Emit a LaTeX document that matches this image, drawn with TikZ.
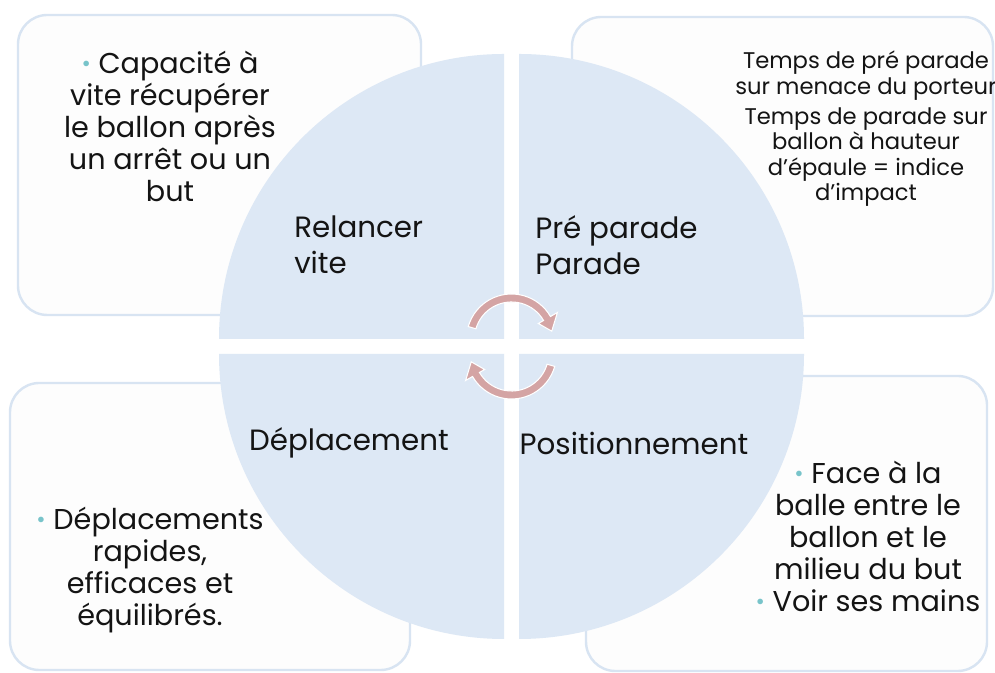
\documentclass[tikz,border=0pt]{standalone}
\usepackage{fontspec}
\setmainfont{Poppins}
\usetikzlibrary{calc}
\definecolor{quadfill}{RGB}{221,232,245}
\definecolor{boxline}{RGB}{216,228,242}
\definecolor{boxfill}{RGB}{253,253,253}
\definecolor{arrowc}{RGB}{212,164,164}
\definecolor{bulletc}{RGB}{120,196,202}
\definecolor{txt}{RGB}{20,20,20}
\newcommand{\mybul}{{\fontsize{17}{17}\selectfont\raisebox{0.08em}{\textcolor{bulletc}{•}}}\ }
\tikzset{
  sidebox/.style={draw=boxline, fill=boxfill, line width=1.8pt, rounded corners=22pt},
  quad/.style={fill=quadfill},
  cyc/.style={fill=arrowc, draw=white, line width=0.8pt},
  boxtext/.style={align=center, inner sep=0pt, text=txt, font=\fontsize{21.5}{24}\selectfont},
  smalltext/.style={align=center, inner sep=0pt, text=txt, font=\fontsize{17}{19.2}\selectfont},
  qlabel/.style={align=left, inner sep=0pt, text=txt, font=\fontsize{22}{27}\selectfont}
}
\begin{document}
\begin{tikzpicture}[x=0.75pt, y=0.75pt]
\useasboundingbox (0,0) rectangle (995,673);
\fill[white] (0,0) rectangle (995,673);
% side boxes
\draw[sidebox] (18,358) rectangle (421,658);
\draw[sidebox] (572,357) rectangle (993,656);
\draw[sidebox] (10,3) rectangle (410,290);
\draw[sidebox] (586,2) rectangle (987,297);
% quadrants
\fill[quad] (504,334) -- (219,334) arc[start angle=180, end angle=90, radius=213.75pt] -- cycle;
\fill[quad] (519,334) -- (519,619) arc[start angle=90, end angle=0, radius=213.75pt] -- cycle;
\fill[quad] (504,319) -- (219,319) arc[start angle=180, end angle=270, radius=213.75pt] -- cycle;
\fill[quad] (519,319) -- (804,319) arc[start angle=0, end angle=-90, radius=213.75pt] -- cycle;
% cycle arrows
\coordinate (ctop) at (511.5,334);
\coordinate (cbot) at (511.5,319);
\draw[cyc, shift={(ctop)}] (164:45) arc[start angle=164, end angle=30, radius=33.75pt]
  -- (30:53) -- (11:41) -- (30:31) -- (30:37)
  arc[start angle=30, end angle=164, radius=27.75pt] -- cycle;
\draw[cyc, shift={(cbot)}] (-16:45) arc[start angle=-16, end angle=-150, radius=33.75pt]
  -- (-150:53) -- (-169:41) -- (-150:31) -- (-150:37)
  arc[start angle=-150, end angle=-16, radius=27.75pt] -- cycle;
% quadrant labels
\node[qlabel, anchor=west] (relancer) at (294,428) {Relancer\\vite};
\node[qlabel, anchor=west] (parade) at (535,428) {Pré parade\\Parade};
\node[qlabel] (deplacement) at (349,230) {Déplacement};
\node[qlabel] (position) at (634,230) {Positionnement};
% box texts
\node[boxtext] (tltext) at (170,547) {\mybul Capacité à\\vite récupérer\\le ballon après\\un arrêt ou un\\but};
\node[smalltext] (trtext) at (866,544) {Temps de pré parade\\sur menace du porteur\\[3pt]Temps de parade sur\\ballon à hauteur\\d’épaule = indice\\d’impact};
\node[boxtext] (bltext) at (150,103) {\mybul Déplacements\\rapides,\\efficaces et\\équilibrés.};
\node[boxtext] (brtext) at (868,137) {\mybul Face à la\\balle entre le\\ballon et le\\milieu du but\\\mybul Voir ses mains};
\end{tikzpicture}
\end{document}
